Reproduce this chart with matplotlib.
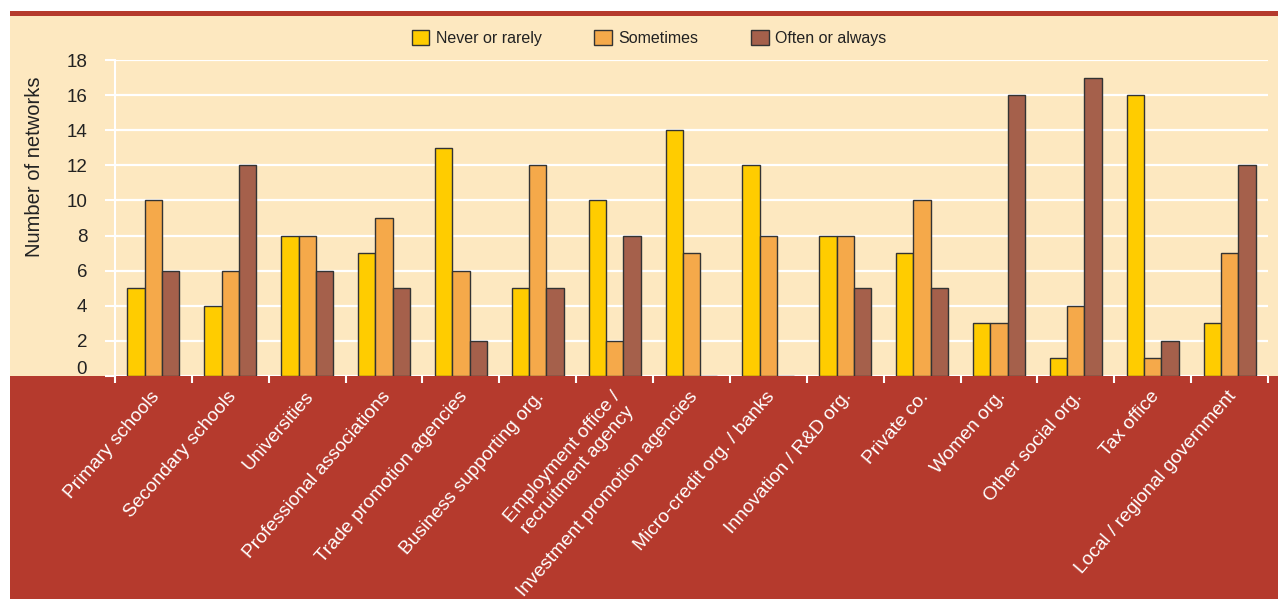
import matplotlib.pyplot as plt
import matplotlib.transforms as mtransforms
from matplotlib.patches import Rectangle
import numpy as np

plt.rcParams['font.family'] = ['Liberation Sans', 'DejaVu Sans']

categories = ['Primary schools', 'Secondary schools', 'Universities',
              'Professional associations', 'Trade promotion agencies',
              'Business supporting org.', 'Employment office /\nrecruitment agency',
              'Investment promotion agencies', 'Micro-credit org. / banks',
              'Innovation / R&D org.', 'Private co.', 'Women org.',
              'Other social org.', 'Tax office', 'Local / regional government']
never = [5, 4, 8, 7, 13, 5, 10, 14, 12, 8, 7, 3, 1, 16, 3]
sometimes = [10, 6, 8, 9, 6, 12, 2, 7, 8, 8, 10, 3, 4, 1, 7]
often = [6, 12, 6, 5, 2, 5, 8, 0, 0, 5, 5, 16, 17, 2, 12]
series = ['Never or rarely', 'Sometimes', 'Often or always']
colors = ['#FFCC00', '#F5A94A', '#A5604B']

cream = '#FDE8C0'
red = '#B53A2D'

W, H = 1278, 599
fig = plt.figure(figsize=(W / 100, H / 100), dpi=100, facecolor='white')

# background panels (pixel coords converted to figure fraction)
def px_rect(x0, y0, x1, y1, color):
    fig.patches.append(Rectangle((x0 / W, 1 - y1 / H), (x1 - x0) / W, (y1 - y0) / H,
                                 transform=fig.transFigure, facecolor=color,
                                 edgecolor='none', zorder=-10))

px_rect(10, 11, W, 15.5, red)
px_rect(10, 15.5, W, 376, cream)
px_rect(10, 376, W, H, red)

ax = fig.add_axes([115 / W, 1 - 376 / H, (1268 - 115) / W, (376 - 60) / H])
ax.set_facecolor(cream)

x = np.arange(len(categories))
w = 0.225
for i, (vals, name, c) in enumerate(zip([never, sometimes, often], series, colors)):
    ax.bar(x + (i - 1) * w, vals, w, color=c, edgecolor='#333333', linewidth=1.0,
           label=name, zorder=3)

ax.set_xlim(-0.5, len(categories) - 0.5)
ax.set_ylim(0, 18)
ax.set_yticks(range(0, 19, 2))
ax.grid(axis='y', color='white', linewidth=1.6, zorder=0)
ax.set_axisbelow(True)
for s in ['top', 'right', 'bottom']:
    ax.spines[s].set_visible(False)
ax.spines['left'].set_color('white')
ax.spines['left'].set_linewidth(1.5)
ax.tick_params(axis='y', colors='white', length=7, width=1.5, pad=13,
               labelsize=13.5, labelcolor='#222222')

# x ticks at group boundaries, labels drawn separately
ax.set_xticks(np.arange(-0.5, len(categories), 1.0))
ax.set_xticklabels([])
ax.tick_params(axis='x', colors='white', length=5, width=1.5)

# nudge the "0" label up
lbl0 = ax.get_yticklabels()[0]
lbl0.set_transform(lbl0.get_transform() + mtransforms.ScaledTranslation(0, 9 / 100, fig.dpi_scale_trans))

offset = mtransforms.ScaledTranslation(-3 / 100, -12 / 100, fig.dpi_scale_trans)
for xi, cat in zip(x, categories):
    ax.text(xi, 0, cat, rotation=49, ha='right', va='top', rotation_mode='anchor',
            color='white', fontsize=13.8, multialignment='center',
            transform=ax.get_xaxis_transform() + offset)

fig.text(35 / W, 1 - 167 / H, 'Number of networks', rotation=90, ha='center',
         va='center', fontsize=14.5, color='#222222')

fig.legend(loc='center', bbox_to_anchor=(649 / W, 1 - 38 / H), ncol=3, frameon=False,
           fontsize=11.5, handlelength=1.1, handleheight=1.1, handletextpad=0.4,
           columnspacing=3.3, labelcolor='#222222')

plt.savefig('out.png', dpi=100, facecolor='white')
